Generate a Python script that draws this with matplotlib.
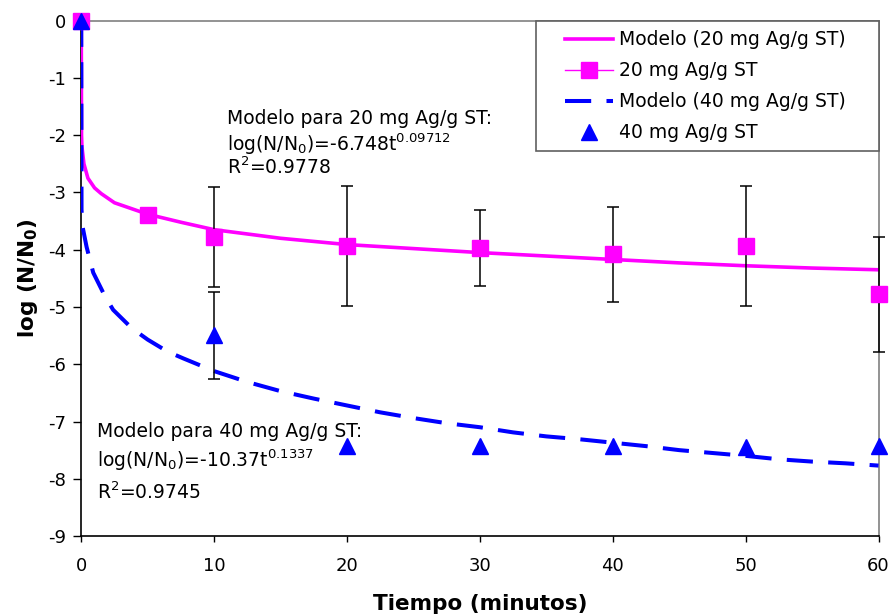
import numpy as np
import matplotlib
matplotlib.use('Agg')
import matplotlib.pyplot as plt
from matplotlib.lines import Line2D
from matplotlib.legend_handler import HandlerLine2D

plt.rcParams['font.family'] = 'DejaVu Sans'
plt.rcParams['mathtext.default'] = 'regular'
plt.rcParams['axes.unicode_minus'] = False

t_exp = [0, 5, 10, 20, 30, 40, 50, 60]
y20 = [0, -3.39, -3.78, -3.94, -3.97, -4.08, -3.93, -4.78]
err20 = [0, 0, 0.87, 1.05, 0.67, 0.83, 1.05, 1.0]
y40 = [0, None, -5.49, -7.43, -7.43, -7.43, -7.44, -7.43]
err40 = [0, 0, 0.76, 0, 0, 0, 0, 0]

# curvas del modelo
t_mod20 = [0, 0.02, 0.05, 0.2, 0.5, 1, 1.5, 2.5, 5, 7.5, 10, 15, 20, 25, 30,
           35, 40, 45, 50, 55, 60]
y_mod20 = [0, -2.0, -2.2, -2.5, -2.75, -2.92, -3.02, -3.18, -3.38, -3.52,
           -3.65, -3.8, -3.91, -3.98, -4.05, -4.11, -4.17, -4.23, -4.28,
           -4.32, -4.35]
t_mod40 = [0, 0.02, 0.1, 0.4, 0.9, 1.8, 2.4, 3.8, 5, 6.5, 7.7, 10, 12.5, 15,
           17.5, 20, 22.5, 25, 27.5, 30, 32.5, 35, 37.5, 40, 42.5, 45, 47.5,
           50, 52.5, 55, 57.5, 60]
y_mod40 = [0, -3.3, -3.6, -3.95, -4.4, -4.82, -5.05, -5.37, -5.57, -5.78,
           -5.9, -6.12, -6.31, -6.47, -6.6, -6.72, -6.84, -6.94, -7.03, -7.1,
           -7.19, -7.26, -7.31, -7.37, -7.43, -7.5, -7.55, -7.6, -7.66, -7.7,
           -7.73, -7.77]

MAG = '#FF00FF'
BLUE = '#0000FF'

fig = plt.figure(figsize=(8.94, 6.14), dpi=100)
ax = fig.add_axes([0.0909, 0.127, 0.8918, 0.8393])

ax.plot(t_mod20, y_mod20, color=MAG, lw=2.6, zorder=3)
ax.plot(t_mod40, y_mod40, color=BLUE, lw=2.9, dashes=(6.5, 3.8), zorder=4)

# barras de error (solo donde hay)
t_arr = np.array(t_exp, dtype=float)
y20a = np.array(y20, dtype=float)
e20 = np.array(err20)
m = e20 > 0
eb = ax.errorbar(t_arr[m], y20a[m], yerr=e20[m], fmt='none', ecolor='black',
                 elinewidth=1.1, capsize=4, capthick=1.1, zorder=4.5)
for a in eb.lines[1] + eb.lines[2]:
    a.set_clip_on(False)
y40a = np.array([np.nan if v is None else v for v in y40])
e40 = np.array(err40)
m = e40 > 0
ax.errorbar(t_arr[m], y40a[m], yerr=e40[m], fmt='none', ecolor='black',
            elinewidth=1.1, capsize=4, capthick=1.1, zorder=4.5)

ax.plot(t_exp, y20a, ls='none', marker='s', ms=11, color=MAG, zorder=5,
        clip_on=False)
ax.plot(t_exp, y40a, ls='none', marker='^', ms=11, color=BLUE, zorder=6,
        clip_on=False)

ax.set_xlim(0, 60)
ax.set_ylim(-9, 0)
ax.set_xticks(range(0, 61, 10))
ax.set_yticks(range(-9, 1))
ax.tick_params(axis='y', direction='out', length=6, width=1, labelsize=13,
               pad=5)
ax.tick_params(axis='x', direction='out', length=4, width=1, labelsize=13,
               pad=11)
for s in ['top', 'right']:
    ax.spines[s].set_color('#808080')
    ax.spines[s].set_linewidth(1.2)
for s in ['left', 'bottom']:
    ax.spines[s].set_color('black')
    ax.spines[s].set_linewidth(1.2)

ax.set_xlabel('Tiempo (minutos)', fontsize=15.5, fontweight='bold',
              labelpad=14)
ax.set_ylabel(r'log (N/N$_\mathbf{0}$)', fontsize=15.5, fontweight='bold',
              labelpad=6)

# textos de los modelos
fs = 13.5
ax.text(10.93, -1.81, 'Modelo para 20 mg Ag/g ST:', fontsize=fs)
ax.text(10.93, -2.27, r'log(N/N$_0$)=-6.748t$^{0.09712}$', fontsize=fs)
ax.text(10.93, -2.68, r'R$^2$=0.9778', fontsize=fs)
ax.text(1.15, -7.27, 'Modelo para 40 mg Ag/g ST:', fontsize=fs)
ax.text(1.15, -7.79, r'log(N/N$_0$)=-10.37t$^{0.1337}$', fontsize=fs)
ax.text(1.15, -8.36, r'R$^2$=0.9745', fontsize=fs)

handles = [
    Line2D([], [], color=MAG, lw=2.6),
    Line2D([], [], color=MAG, lw=1, marker='s', ms=11),
    Line2D([], [], color=BLUE, lw=2.9, dashes=(6.5, 3.8)),
    Line2D([], [], ls='none', color=BLUE, marker='^', ms=11),
]
labels = ['Modelo (20 mg Ag/g ST)    ', '20 mg Ag/g ST', 'Modelo (40 mg Ag/g ST)',
          '40 mg Ag/g ST']
leg = ax.legend(handles, labels, loc='upper right', bbox_to_anchor=(1, 1),
                borderaxespad=0, fontsize=fs, fancybox=False, framealpha=1,
                edgecolor='#606060', borderpad=0.5, labelspacing=0.64,
                handlelength=3.65, handletextpad=0.27,
                handler_map={Line2D: HandlerLine2D(xpad=1.05)})
leg.get_frame().set_linewidth(1.2)
leg.set_zorder(10)

fig.savefig('out.png', dpi=100)
